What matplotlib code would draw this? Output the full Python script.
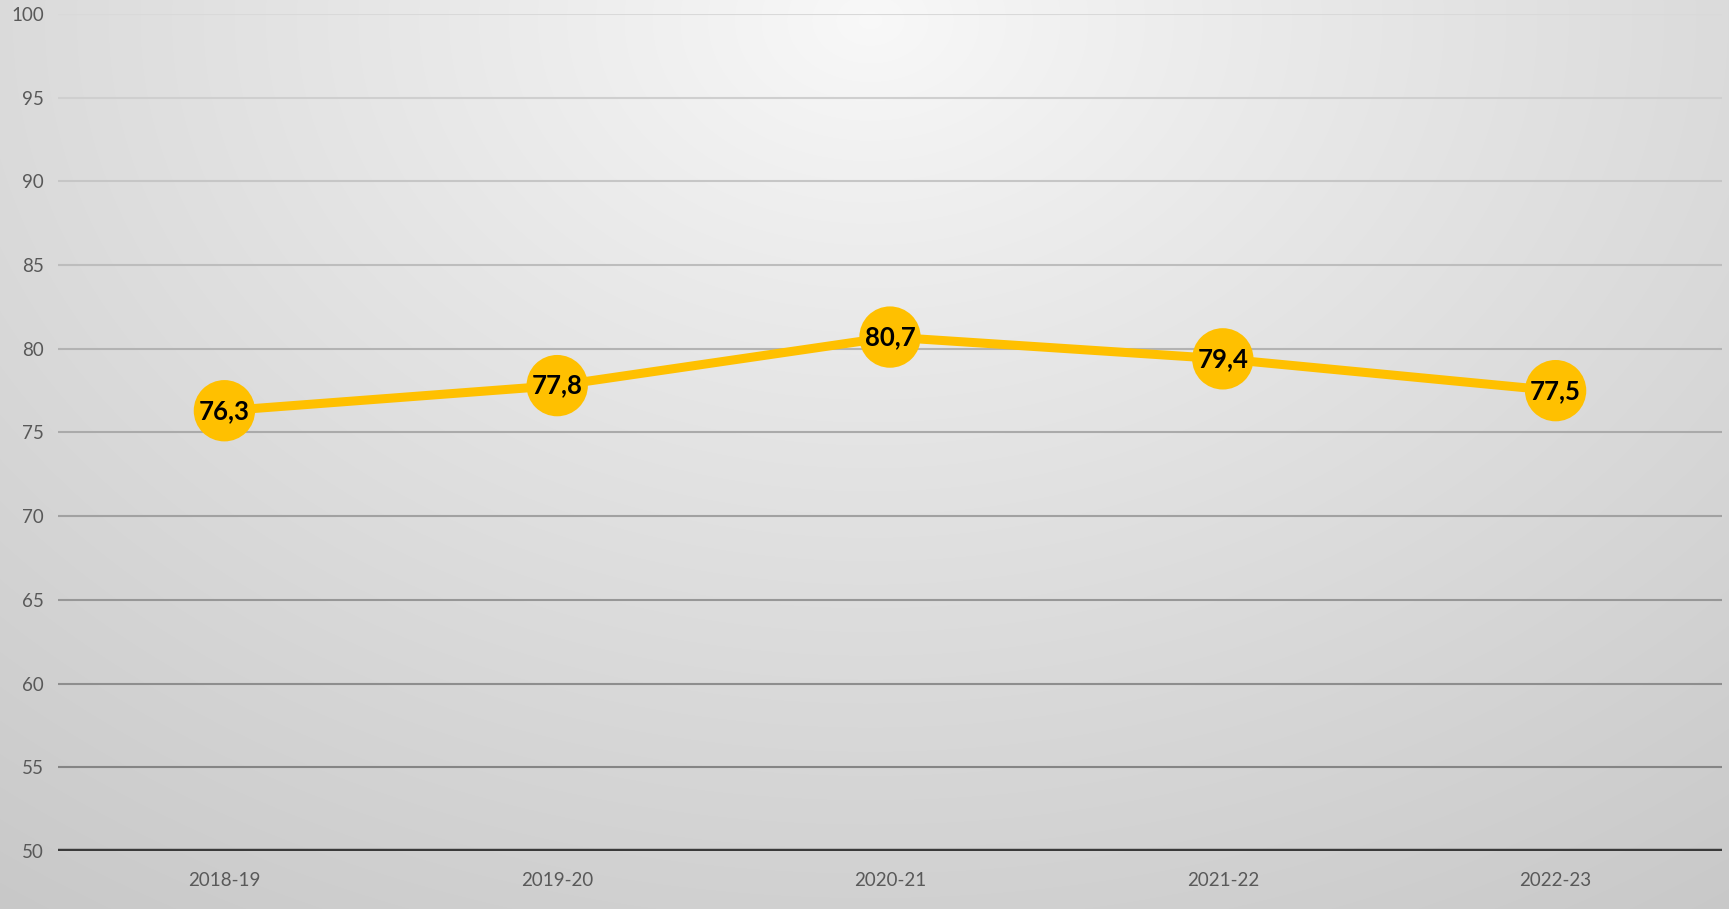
import numpy as np
import matplotlib
matplotlib.use("Agg")
import matplotlib.pyplot as plt

categories = ["2018-19", "2019-20", "2020-21", "2021-22", "2022-23"]
values = [76.3, 77.8, 80.7, 79.4, 77.5]
value_labels = ["76,3", "77,8", "80,7", "79,4", "77,5"]
yticks = [50, 55, 60, 65, 70, 75, 80, 85, 90, 95, 100]

W, H = 1729, 909
fig = plt.figure(figsize=(W / 100, H / 100), dpi=100)

# radial background gradient
bg = fig.add_axes([0, 0, 1, 1], zorder=0)
yy, xx = np.mgrid[0:H, 0:W]
cx, cy = 870, 20
r = np.sqrt(((xx - cx) / 1.0) ** 2 + ((yy - cy) * 1.35) ** 2)
r = r / r.max()
c = 0.975 - 0.19 * np.clip(r, 0, 1) ** 0.9
bg.imshow(np.dstack([c, c, c]), aspect="auto", extent=[0, 1, 0, 1], interpolation="bilinear")
bg.set_axis_off()

ax = fig.add_axes([58 / W, 1 - 851 / H, (1722 - 58) / W, (851 - 14) / H], zorder=1)
ax.patch.set_alpha(0)
x = np.arange(len(categories))
ax.set_xlim(-0.5, len(categories) - 0.5)
ax.set_ylim(50, 100)

# gridlines with colour gradient (lighter at top)
for t in yticks[1:]:
    f = (t - 55) / 45.0
    g = 0.52 + 0.33 * f
    ax.axhline(t, color=(g, g, g), lw=1.5, zorder=1)
ax.axhline(50, color="#3a3a3a", lw=3.2, zorder=2)

ax.plot(x, values, color="#FFC000", lw=6.5, zorder=3, solid_capstyle="round")
ax.scatter(x, values, s=1950, color="#FFC000", zorder=4, edgecolors="none")
for xi, v, lab in zip(x, values, value_labels):
    ax.text(xi, v, lab, ha="center", va="center", fontsize=18.5, fontweight="bold",
            family="Lato", color="#000000", zorder=5)

for s in ax.spines.values():
    s.set_visible(False)
ax.set_yticks(yticks)
ax.set_yticklabels([str(t) for t in yticks], fontsize=13.5, color="#595959", family="Lato")
ax.set_xticks(x)
ax.set_xticklabels(categories, fontsize=13.5, color="#595959", family="Lato")
ax.tick_params(axis="both", length=0)
ax.tick_params(axis="y", pad=10)
ax.tick_params(axis="x", pad=15)
for lbl in ax.get_yticklabels():
    lbl.set_horizontalalignment("right")

fig.savefig("out.png", dpi=100)
